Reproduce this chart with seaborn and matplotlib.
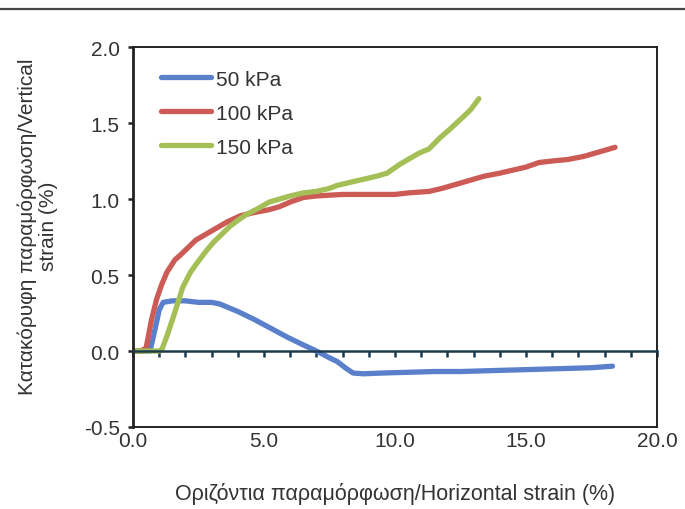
import matplotlib
matplotlib.use("Agg")
import matplotlib.pyplot as plt
from matplotlib.lines import Line2D
from matplotlib.ticker import FormatStrFormatter, MultipleLocator
import seaborn as sns
import pandas as pd

# ---- data ----
x_50 = [0, 0.3, 0.65, 0.85, 1.0, 1.15, 1.5, 2.0, 2.5, 3.0, 3.3, 4.0, 4.6, 5.2, 5.9,
        6.5, 7.0, 7.5, 7.8, 8.1, 8.4, 8.8, 9.5, 10.5, 11.5, 12.5, 13.5, 14.5, 15.5,
        16.5, 17.5, 18.3]
y_50 = [0, 0, 0.0, 0.15, 0.27, 0.32, 0.33, 0.33, 0.32, 0.32, 0.31, 0.26, 0.21, 0.155, 0.09,
        0.04, 0.0, -0.045, -0.07, -0.11, -0.145, -0.15, -0.145, -0.14, -0.135, -0.135, -0.13,
        -0.125, -0.12, -0.115, -0.11, -0.10]

x_100 = [0, 0.3, 0.5, 0.7, 0.9, 1.1, 1.3, 1.6, 1.8, 2.1, 2.4, 2.8, 3.2, 3.6, 4.1, 4.6,
         5.2, 5.6, 6.0, 6.5, 7.0, 8.0, 9.0, 10.0, 10.5, 11.3, 11.8, 12.2, 12.8, 13.4,
         14.0, 14.5, 15.0, 15.5, 16.0, 16.6, 17.2, 17.8, 18.4]
y_100 = [0, 0, 0.02, 0.2, 0.34, 0.44, 0.52, 0.60, 0.63, 0.68, 0.73, 0.77, 0.81, 0.85, 0.89, 0.91,
         0.93, 0.95, 0.98, 1.01, 1.02, 1.03, 1.03, 1.03, 1.04, 1.05, 1.07, 1.09, 1.12, 1.15,
         1.17, 1.19, 1.21, 1.24, 1.25, 1.26, 1.28, 1.31, 1.34]

x_150 = [0, 0.5, 1.0, 1.1, 1.3, 1.55, 1.9, 2.2, 2.45, 2.8, 3.1, 3.4, 3.7, 4.0, 4.35, 4.8,
         5.2, 5.6, 6.0, 6.5, 7.0, 7.5, 7.8, 8.3, 8.8, 9.3, 9.7, 10.2, 10.9, 11.3, 11.7,
         12.1, 12.6, 12.9, 13.2]
y_150 = [0, 0, 0, 0.01, 0.1, 0.23, 0.42, 0.52, 0.58, 0.66, 0.72, 0.77, 0.82, 0.86, 0.90, 0.94,
         0.98, 1.0, 1.02, 1.04, 1.05, 1.07, 1.09, 1.11, 1.13, 1.15, 1.17, 1.23, 1.30, 1.33, 1.40,
         1.46, 1.54, 1.59, 1.66]

series_names = ["50 kPa", "100 kPa", "150 kPa"]
colors = ["#5a80cc", "#cc5a55", "#a3bf55"]

x_ticks = [0, 5, 10, 15, 20]
y_ticks = [-0.5, 0.0, 0.5, 1.0, 1.5, 2.0]
xlabel = "Οριζόντια παραμόρφωση/Horizontal strain (%)"
ylabel = "Κατακόρυφη παραμόρφωση/Vertical\nstrain (%)"

frames = []
for name, xs, ys in zip(series_names, [x_50, x_100, x_150], [y_50, y_100, y_150]):
    frames.append(pd.DataFrame({"x": xs, "y": ys, "series": name}))
df = pd.concat(frames, ignore_index=True)

sns.set_style("white")
plt.rcParams["font.family"] = ["Liberation Sans", "DejaVu Sans"]

FS = 15
TXT = "#333333"

fig = plt.figure(figsize=(6.85, 5.1), dpi=100)
ax = fig.add_axes([133 / 685, 1 - 428 / 510, 524 / 685, 380 / 510])

sns.lineplot(data=df, x="x", y="y", hue="series", hue_order=series_names,
             palette=colors, sort=False, estimator=None, units="series",
             linewidth=3.8, ax=ax, legend=True)

ax.set_xlim(0, 20)
ax.set_ylim(-0.5, 2.0)

# zero axis with ticks every 1.0
ax.spines["bottom"].set_position(("data", 0))
ax.spines["bottom"].set_color("#1d3a4e")
ax.spines["bottom"].set_linewidth(1.8)
ax.xaxis.set_major_locator(MultipleLocator(1))
ax.tick_params(axis="x", direction="out", length=4, width=1.8, color="#1d3a4e",
               labelbottom=False, bottom=True)

for s in ["left", "top", "right"]:
    ax.spines[s].set_visible(True)
    ax.spines[s].set_color("#222222")
    ax.spines[s].set_linewidth(1.4)
ax.spines["left"].set_linewidth(2.0)

ax.set_yticks(y_ticks)
ax.yaxis.set_major_formatter(FormatStrFormatter("%.1f"))
ax.tick_params(axis="y", direction="out", length=3.6, width=1.8, color="#222222",
               labelsize=FS, labelcolor=TXT, pad=6, left=True)
ax.set_ylabel(ylabel, fontsize=FS, color=TXT, linespacing=1.15)
ax.yaxis.set_label_coords(-0.143, 0.53)
ax.set_xlabel("")

sec = ax.secondary_xaxis(0)
sec.set_xticks(x_ticks)
sec.xaxis.set_major_formatter(FormatStrFormatter("%.1f"))
sec.tick_params(axis="x", length=0, labelsize=FS, labelcolor=TXT, pad=3)
sec.spines["bottom"].set_color("#222222")
sec.spines["bottom"].set_linewidth(1.4)
sec.set_xlabel(xlabel, fontsize=15.5, color=TXT, labelpad=23)

handles, labels = ax.get_legend_handles_labels()
for h in handles:
    h.set_linewidth(3.8)
ax.legend(handles, labels, loc="upper left", bbox_to_anchor=(0.037, 0.962),
          frameon=False, fontsize=FS, handlelength=2.4, handletextpad=0.25,
          labelspacing=0.72, borderaxespad=0, labelcolor=TXT)

# page rule at the top of the scan
fig.add_artist(Line2D([0, 1], [1 - 10 / 510, 1 - 10 / 510], transform=fig.transFigure,
                      color="#444444", linewidth=1.6))

fig.savefig("out.png", dpi=100, facecolor="white")
